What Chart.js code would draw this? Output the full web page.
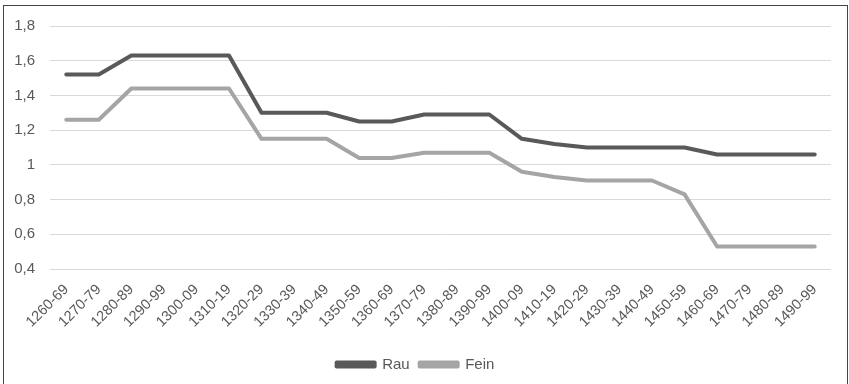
<!DOCTYPE html>
<html>
<head>
<meta charset="utf-8">
<script src="https://cdn.jsdelivr.net/npm/chart.js@4/dist/chart.umd.min.js"></script>
<style>
  html, body { margin: 0; padding: 0; background: #fff; overflow: hidden; }
  #wrap { position: relative; width: 849px; height: 384px; }
  canvas { display: block; }
</style>
</head>
<body>
<div id="wrap"><canvas id="c" width="849" height="384"></canvas></div>
<script>
// Decades (x categories)
const categories = [
  '1260-69','1270-79','1280-89','1290-99','1300-09','1310-19','1320-29','1330-39',
  '1340-49','1350-59','1360-69','1370-79','1380-89','1390-99','1400-09','1410-19',
  '1420-29','1430-39','1440-49','1450-59','1460-69','1470-79','1480-89','1490-99'
];

// Series values
const rau = [
  1.52, 1.52, 1.63, 1.63, 1.63, 1.63, 1.30, 1.30,
  1.30, 1.25, 1.25, 1.29, 1.29, 1.29, 1.15, 1.12,
  1.10, 1.10, 1.10, 1.10, 1.06, 1.06, 1.06, 1.06
];
const fein = [
  1.26, 1.26, 1.44, 1.44, 1.44, 1.44, 1.15, 1.15,
  1.15, 1.04, 1.04, 1.07, 1.07, 1.07, 0.96, 0.93,
  0.91, 0.91, 0.91, 0.83, 0.53, 0.53, 0.53, 0.53
];

// Value axis range
const yMin = 0.4;
const yMax = 1.8;
const yStep = 0.2;

const textColor = '#595959';
const fontFamily = "'Liberation Sans', Arial, sans-serif";

// Outer frame around the chart
const framePlugin = {
  id: 'frame',
  afterDraw(chart) {
    const ctx = chart.ctx;
    ctx.save();
    ctx.strokeStyle = '#444444';
    ctx.lineWidth = 1;
    ctx.strokeRect(3.5, 5.5, 844, 420);
    ctx.restore();
  }
};

new Chart(document.getElementById('c'), {
  type: 'line',
  data: {
    labels: categories,
    datasets: [
      {
        label: 'Rau',
        data: rau,
        borderColor: '#595959',
        backgroundColor: '#595959',
        borderWidth: 4,
        pointRadius: 0,
        tension: 0,
        borderJoinStyle: 'round',
        borderCapStyle: 'round',
        fill: false
      },
      {
        label: 'Fein',
        data: fein,
        borderColor: '#a5a5a5',
        backgroundColor: '#a5a5a5',
        borderWidth: 4,
        pointRadius: 0,
        tension: 0,
        borderJoinStyle: 'round',
        borderCapStyle: 'round',
        fill: false
      }
    ]
  },
  options: {
    responsive: false,
    animation: false,
    devicePixelRatio: 1,
    layout: { padding: { top: 26, right: 18, bottom: 2, left: 0 } },
    plugins: {
      legend: {
        position: 'bottom',
        labels: {
          color: textColor,
          font: { family: fontFamily, size: 15 },
          boxWidth: 38,
          boxHeight: 4,
          padding: 10
        }
      },
      tooltip: { enabled: false }
    },
    scales: {
      x: {
        offset: true,
        grid: { display: false, drawTicks: false },
        border: { display: false },
        ticks: {
          color: textColor,
          font: { family: fontFamily, size: 14.5 },
          minRotation: 45,
          maxRotation: 45,
          autoSkip: false,
          padding: 12
        },
        afterFit(scale) { scale.height = 78; }
      },
      y: {
        min: yMin,
        max: yMax,
        grid: { color: '#d9d9d9', lineWidth: 1, drawTicks: false },
        border: { display: false },
        ticks: {
          stepSize: yStep,
          color: textColor,
          font: { family: fontFamily, size: 15 },
          padding: 15,
          callback(v) { return String(Number(v.toFixed(1))).replace('.', ','); }
        },
        afterFit(scale) { scale.width = 50; }
      }
    }
  },
  plugins: [framePlugin]
});
</script>
</body>
</html>
